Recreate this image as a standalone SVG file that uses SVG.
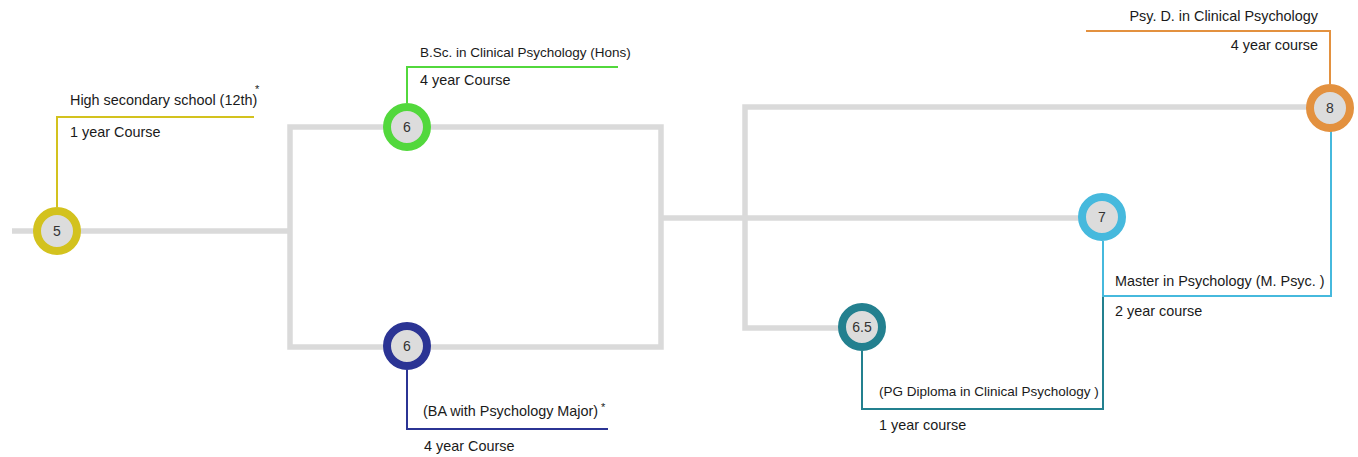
<svg xmlns="http://www.w3.org/2000/svg" width="1358" height="457" viewBox="0 0 1358 457">
  <style>
    .track { fill: none; stroke: #dadada; stroke-width: 5.5; stroke-linejoin: miter; }
    .lead { fill: none; stroke-width: 2; }
    .ring { fill: #dcdcdc; stroke-width: 8; }
    .num { font-family: "Liberation Sans", Arial, sans-serif; font-size: 14px; fill: #333333; text-anchor: middle; dominant-baseline: central; }
    .lbl { font-family: "Liberation Sans", Arial, sans-serif; font-size: 14.4px; fill: #1a1a1a; }
    .sm { font-size: 13.5px; }
    .star { font-family: "Liberation Sans", Arial, sans-serif; font-size: 11px; fill: #1a1a1a; }
    .end { text-anchor: end; }
  </style>

  <!-- grey pathway tracks -->
  <g id="connectors">
    <path class="track" d="M12 231 H290"/>
    <path class="track" d="M290 127 H661 V347 H290 Z"/>
    <path class="track" d="M661 218 H1102"/>
    <path class="track" d="M1330 107 H745 V328 H862"/>

    <!-- coloured label leaders -->
    <path class="lead" stroke="#d3c21e" d="M57 207 V117 H254"/>
    <path class="lead" stroke="#52d83c" d="M407 103 V67 H618"/>
    <path class="lead" stroke="#2b3494" d="M407 370 V429 H608"/>
    <path class="lead" stroke="#23808f" d="M862 351 V409 H1103 V296"/>
    <path class="lead" stroke="#46b9dd" d="M1103 241 V296 H1331 V131"/>
    <path class="lead" stroke="#e3913f" d="M1330 84 V31 H1086"/>
  </g>

  <g id="node-5">
    <circle class="ring" cx="57" cy="231" r="20" stroke="#d3c21e"/>
    <text class="num" x="57" y="231">5</text>
    <text class="lbl" x="70" y="105">High secondary school (12th)</text>
    <text class="star" x="255" y="93">*</text>
    <text class="lbl" x="70" y="137">1 year Course</text>
  </g>

  <g id="node-6-bsc">
    <circle class="ring" cx="407" cy="127" r="20" stroke="#52d83c"/>
    <text class="num" x="407" y="127">6</text>
    <text class="lbl sm" x="420" y="57">B.Sc. in Clinical Psychology (Hons)</text>
    <text class="lbl" x="420" y="85">4 year Course</text>
  </g>

  <g id="node-6-ba">
    <circle class="ring" cx="407" cy="346" r="20" stroke="#2b3494"/>
    <text class="num" x="407" y="346">6</text>
    <text class="lbl" x="423" y="416">(BA with Psychology Major)</text>
    <text class="star" x="601" y="411">*</text>
    <text class="lbl" x="424" y="451">4 year Course</text>
  </g>

  <g id="node-6-5">
    <circle class="ring" cx="862" cy="327" r="20" stroke="#23808f"/>
    <text class="num" x="862" y="327">6.5</text>
    <text class="lbl sm" x="879" y="396">(PG Diploma in Clinical Psychology )</text>
    <text class="lbl" x="879" y="430">1 year course</text>
  </g>

  <g id="node-7">
    <circle class="ring" cx="1102" cy="217" r="20" stroke="#46b9dd"/>
    <text class="num" x="1102" y="217">7</text>
    <text class="lbl" x="1115" y="286">Master in Psychology (M. Psyc. )</text>
    <text class="lbl" x="1115" y="316">2 year course</text>
  </g>

  <g id="node-8">
    <circle class="ring" cx="1330" cy="108" r="20" stroke="#e3913f"/>
    <text class="num" x="1330" y="108">8</text>
    <text class="lbl end" x="1318" y="21">Psy. D. in Clinical Psychology</text>
    <text class="lbl end" x="1318" y="50">4 year course</text>
  </g>
</svg>
